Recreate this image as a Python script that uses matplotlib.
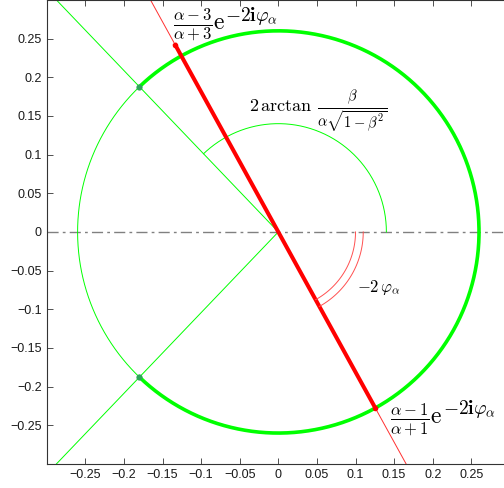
import numpy as np
import matplotlib
matplotlib.use("Agg")
import matplotlib.pyplot as plt

plt.rcParams['mathtext.fontset'] = 'cm'
plt.rcParams['font.family'] = ['Liberation Sans', 'DejaVu Sans']

# parameters
alpha = 1.7027
phi_alpha = np.deg2rad(30.55)
beta = 0.970
r_arc_green = 0.14
r_arcs_red = [0.10, 0.11]
x_ticks = [-0.25, -0.2, -0.15, -0.1, -0.05, 0, 0.05, 0.1, 0.15, 0.2, 0.25]
y_ticks = [-0.25, -0.2, -0.15, -0.1, -0.05, 0, 0.05, 0.1, 0.15, 0.2, 0.25]
tick_labels = ['\u22120.25', '\u22120.2', '\u22120.15', '\u22120.1', '\u22120.05', '0',
               '0.05', '0.1', '0.15', '0.2', '0.25']

R = (alpha - 1) / (alpha + 1)
A = (alpha - 3) / (alpha + 3) * np.exp(-2j * phi_alpha)
B = (alpha - 1) / (alpha + 1) * np.exp(-2j * phi_alpha)
theta = 2 * np.arctan(beta / (alpha * np.sqrt(1 - beta**2)))

fig = plt.figure(figsize=(5.04, 4.88), dpi=100)
ax = fig.add_axes([0.0927, 0.0492, 0.919, 0.951])
ax.set_xlim(-0.3, 0.3)
ax.set_ylim(-0.3, 0.3)

green = '#00ff00'
ax.axhline(0, color='0.5', lw=1.0, ls='-.', dashes=(8, 3, 2, 3))

# big circle: thick part and thin part
t = np.linspace(-theta, theta, 400)
ax.plot(R * np.cos(t), R * np.sin(t), color=green, lw=2.6)
t = np.linspace(theta, 2 * np.pi - theta, 200)
ax.plot(R * np.cos(t), R * np.sin(t), color=green, lw=0.7)

# lines through origin at +-theta
L = 0.6
for s in (1, -1):
    ax.plot([0, L * np.cos(theta)], [0, s * L * np.sin(theta)], color=green, lw=0.7)
    ax.plot(R * np.cos(theta), s * R * np.sin(theta), 'o', color='#2fa55a', ms=4.5, mec='none')

# angle arc
t = np.linspace(0, theta, 200)
ax.plot(r_arc_green * np.cos(t), r_arc_green * np.sin(t), color=green, lw=0.7)

# red line
ang = np.angle(B)
ax.plot([-L * np.cos(ang), L * np.cos(ang)], [-L * np.sin(ang), L * np.sin(ang)],
        color='#ff3030', lw=0.7)
ax.plot([A.real, B.real], [A.imag, B.imag], color='#ff0000', lw=2.9)
ax.plot([A.real, B.real], [A.imag, B.imag], 'o', color='#ff0000', ms=4, mec='none')
t = np.linspace(ang, 0, 100)
for r in r_arcs_red:
    ax.plot(r * np.cos(t), r * np.sin(t), color='#ff5050', lw=0.7)


def put_after(txt, s, size, dy_px):
    # place a second text right after txt, baseline shifted by dy_px pixels
    fig.canvas.draw()
    bb = txt.get_window_extent()
    x0, y0 = ax.transData.transform(txt.get_position())
    x, y = ax.transData.inverted().transform((bb.x1 + 0.5, y0 + dy_px))
    return ax.text(x, y, s, fontsize=size, va='baseline', ha='left')


exponent = r'$-2\mathbf{i}\varphi_\alpha$'
t1 = ax.text(-0.137, 0.261, r'$\frac{\alpha-3}{\alpha+3}\mathrm{e}$',
             fontsize=17, va='baseline', ha='left')
put_after(t1, exponent, 14, 9.5)
t4 = ax.text(0.1447, -0.248, r'$\frac{\alpha-1}{\alpha+1}\mathrm{e}$',
             fontsize=17, va='baseline', ha='left')
put_after(t4, exponent, 14, 9.5)
ax.text(-0.0376, 0.157, r'$2\,\arctan$', fontsize=13, va='baseline', ha='left')
ax.text(0.0497, 0.153, r'$\frac{\beta}{\alpha\sqrt{1-\beta^2}}$', fontsize=15,
        va='baseline', ha='left')
ax.text(0.1015, -0.0777, r'$-2\,\varphi_\alpha$', fontsize=12, va='baseline', ha='left')

ax.set_xticks(x_ticks)
ax.set_xticklabels(tick_labels)
ax.set_yticks(y_ticks)
ax.set_yticklabels(tick_labels)
ax.tick_params(direction='in', top=True, right=True, length=4, labelsize=9,
               width=0.6, color='0.2', labelcolor='0.1')
for sp in ax.spines.values():
    sp.set_linewidth(0.8)
    sp.set_color('0.2')

fig.savefig('out.png', dpi=100)
